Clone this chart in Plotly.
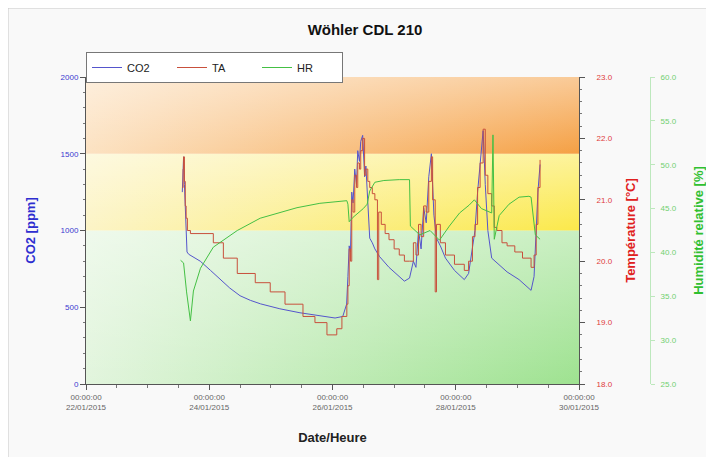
import plotly.graph_objects as go

# ---------------- data ----------------
co2_time = [
    "2015-01-23 13:30", "2015-01-23 13:45", "2015-01-23 14:00", "2015-01-23 14:20", "2015-01-23 14:40",
    "2015-01-23 15:00", "2015-01-23 15:20", "2015-01-23 16:00", "2015-01-23 20:30", "2015-01-24 00:30",
    "2015-01-24 04:20", "2015-01-24 08:00", "2015-01-24 12:00", "2015-01-24 16:00", "2015-01-24 20:00",
    "2015-01-25 03:30", "2015-01-25 11:20", "2015-01-25 19:00", "2015-01-26 01:00", "2015-01-26 04:00",
    "2015-01-26 05:30", "2015-01-26 06:00", "2015-01-26 06:30", "2015-01-26 07:00", "2015-01-26 07:30",
    "2015-01-26 08:00", "2015-01-26 08:40", "2015-01-26 09:20", "2015-01-26 09:50", "2015-01-26 10:30",
    "2015-01-26 11:00", "2015-01-26 11:45", "2015-01-26 12:30", "2015-01-26 13:00", "2015-01-26 13:45",
    "2015-01-26 14:30", "2015-01-26 15:30", "2015-01-26 16:30", "2015-01-26 18:20", "2015-01-26 22:00",
    "2015-01-27 04:00", "2015-01-27 06:00", "2015-01-27 07:30", "2015-01-27 08:30", "2015-01-27 09:30",
    "2015-01-27 10:30", "2015-01-27 11:30", "2015-01-27 12:30", "2015-01-27 13:30", "2015-01-27 14:30",
    "2015-01-27 15:30", "2015-01-27 16:30", "2015-01-27 18:00", "2015-01-27 20:00", "2015-01-27 23:30",
    "2015-01-28 03:20", "2015-01-28 05:00", "2015-01-28 06:30", "2015-01-28 07:30", "2015-01-28 08:30",
    "2015-01-28 09:30", "2015-01-28 10:40", "2015-01-28 11:30", "2015-01-28 12:30", "2015-01-28 14:00",
    "2015-01-28 16:00", "2015-01-28 20:00", "2015-01-29 00:40", "2015-01-29 05:20", "2015-01-29 06:30",
    "2015-01-29 07:20", "2015-01-29 08:00", "2015-01-29 08:50",
]
co2_ppm = [
    1250, 1420, 1480, 1300, 1100,
    900, 860, 845, 800, 740,
    680, 625, 575, 545, 522,
    490, 464, 444, 430, 440,
    520, 700, 900, 860, 1250,
    1180, 1400, 1300, 1520, 1450,
    1580, 1620, 1350, 1420, 1150,
    950, 920, 880, 830, 760,
    670, 690, 800, 760, 1000,
    880, 1150, 1050, 1350, 1500,
    1100, 950, 900, 820, 740,
    680, 720, 900, 1000, 1250,
    1450, 1650, 1300, 1000, 820,
    790, 730, 680, 610, 700,
    1000, 1250, 1430,
]

ta_time = [
    "2015-01-23 13:30", "2015-01-23 13:50", "2015-01-23 14:00", "2015-01-23 14:20", "2015-01-23 14:40",
    "2015-01-23 15:00", "2015-01-23 15:30", "2015-01-23 16:40", "2015-01-24 01:35", "2015-01-24 05:30",
    "2015-01-24 10:55", "2015-01-24 17:55", "2015-01-24 23:45", "2015-01-25 05:30", "2015-01-25 12:30",
    "2015-01-25 17:10", "2015-01-25 21:50", "2015-01-26 00:10", "2015-01-26 01:40", "2015-01-26 03:40",
    "2015-01-26 05:35", "2015-01-26 06:00", "2015-01-26 06:30", "2015-01-26 07:00", "2015-01-26 07:30",
    "2015-01-26 08:00", "2015-01-26 08:40", "2015-01-26 09:20", "2015-01-26 09:50", "2015-01-26 10:30",
    "2015-01-26 11:00", "2015-01-26 11:45", "2015-01-26 12:30", "2015-01-26 13:00", "2015-01-26 13:45",
    "2015-01-26 14:30", "2015-01-26 15:30", "2015-01-26 16:30", "2015-01-26 17:30", "2015-01-26 18:00",
    "2015-01-26 19:00", "2015-01-26 20:30", "2015-01-26 22:00", "2015-01-27 00:00", "2015-01-27 02:00",
    "2015-01-27 04:00", "2015-01-27 06:00", "2015-01-27 07:30", "2015-01-27 08:30", "2015-01-27 09:30",
    "2015-01-27 10:30", "2015-01-27 11:30", "2015-01-27 12:30", "2015-01-27 13:30", "2015-01-27 14:30",
    "2015-01-27 15:00", "2015-01-27 16:00", "2015-01-27 16:30", "2015-01-27 18:00", "2015-01-27 20:00",
    "2015-01-27 23:30", "2015-01-28 03:20", "2015-01-28 05:00", "2015-01-28 06:30", "2015-01-28 07:30",
    "2015-01-28 08:30", "2015-01-28 09:30", "2015-01-28 10:40", "2015-01-28 11:30", "2015-01-28 12:30",
    "2015-01-28 14:00", "2015-01-28 15:00", "2015-01-28 16:00", "2015-01-28 18:00", "2015-01-28 20:00",
    "2015-01-28 23:00", "2015-01-29 02:00", "2015-01-29 05:20", "2015-01-29 06:30", "2015-01-29 07:20",
    "2015-01-29 08:00", "2015-01-29 08:50",
]
ta_degc = [
    21.2, 21.5, 21.7, 21.3, 20.9,
    20.7, 20.5, 20.45, 20.3, 20.05,
    19.8, 19.65, 19.5, 19.3, 19.1,
    19.0, 18.8, 18.8, 18.9, 19.1,
    19.3, 19.6, 20.2, 20.0, 21.0,
    20.8, 21.4, 21.2, 21.6, 21.5,
    21.8, 22.0, 21.4, 21.5, 21.3,
    21.2, 21.1, 21.0, 19.7, 20.8,
    20.6, 20.45, 20.35, 20.2, 20.1,
    20.0, 20.0, 20.3, 20.1, 20.6,
    20.4, 20.9, 20.8, 21.3, 21.7,
    21.0, 19.5, 20.6, 20.3, 20.1,
    19.95, 19.85, 20.0, 20.4, 20.6,
    21.2, 21.6, 22.15, 21.4, 21.1,
    20.9, 20.55, 20.5, 20.3, 20.25,
    20.15, 20.05, 19.9, 20.1, 20.6,
    21.2, 21.65,
]

hr_time = [
    "2015-01-23 12:50", "2015-01-23 14:00", "2015-01-23 15:10", "2015-01-23 16:40", "2015-01-23 17:50",
    "2015-01-23 20:35", "2015-01-24 01:35", "2015-01-24 10:55", "2015-01-24 19:50", "2015-01-25 10:10",
    "2015-01-25 19:05", "2015-01-26 05:35", "2015-01-26 06:00", "2015-01-26 06:30", "2015-01-26 08:00",
    "2015-01-26 10:00", "2015-01-26 12:00", "2015-01-26 13:30", "2015-01-26 14:30", "2015-01-26 16:30",
    "2015-01-26 20:00", "2015-01-27 02:00", "2015-01-27 06:00", "2015-01-27 06:20", "2015-01-27 10:00",
    "2015-01-27 14:00", "2015-01-27 17:40", "2015-01-27 21:30", "2015-01-28 01:30", "2015-01-28 05:15",
    "2015-01-28 07:15", "2015-01-28 10:00", "2015-01-28 14:00", "2015-01-28 14:30", "2015-01-28 15:00",
    "2015-01-28 16:55", "2015-01-28 20:45", "2015-01-29 00:40", "2015-01-29 04:30", "2015-01-29 05:20",
    "2015-01-29 07:00", "2015-01-29 08:50",
]
hr_pct = [
    39.1, 38.8, 35.5, 32.2, 35.6,
    38.2, 40.6, 42.5, 43.9, 45.1,
    45.6, 45.9, 45.5, 43.5, 44.0,
    44.5, 45.0, 45.5, 47.0, 48.0,
    48.2, 48.3, 48.3, 43.0, 42.0,
    42.5, 41.4, 43.0, 44.5, 45.4,
    46.0, 45.0, 44.5, 53.4, 41.5,
    44.2, 45.5, 46.3, 46.4, 46.3,
    42.0, 41.5,
]

band_lo = [0, 1000, 1500]
band_hi = [1000, 1500, 2000]
band_colors = [
    ["#e2f5dd", "#9ee290"],
    ["#fcf4c6", "#fbe94a"],
    ["#fce2c2", "#f5a044"],
]

x_range = ["2015-01-22 00:00", "2015-01-30 00:00"]
x_tickvals = ["2015-01-22", "2015-01-24", "2015-01-26", "2015-01-28", "2015-01-30"]
x_ticktext = ["00:00:00<br>22/01/2015", "00:00:00<br>24/01/2015", "00:00:00<br>26/01/2015",
              "00:00:00<br>28/01/2015", "00:00:00<br>30/01/2015"]

# ---------------- figure ----------------
fig = go.Figure()
FONT = "Liberation Sans, Arial, sans-serif"

for lo, hi, (c0, c1) in zip(band_lo, band_hi, band_colors):
    fig.add_trace(go.Scatter(
        x=[x_range[0], x_range[1], x_range[1], x_range[0], x_range[0]],
        y=[lo, lo, hi, hi, lo],
        mode="lines", line=dict(width=0), fill="toself",
        fillgradient=dict(type="horizontal", colorscale=[[0, c0], [1, c1]]),
        hoverinfo="skip", showlegend=False, xaxis="x", yaxis="y",
    ))
    fig.add_trace(go.Scatter(
        x=[x_range[0], x_range[1], x_range[1], x_range[0], x_range[0]],
        y=[lo, lo, hi, hi, lo],
        mode="lines", line=dict(width=0), fill="toself",
        fillgradient=dict(type="vertical",
                          colorscale=[[0, "rgba(255,255,255,0)"], [1, "rgba(255,255,255,0.45)"]]),
        hoverinfo="skip", showlegend=False, xaxis="x", yaxis="y",
    ))

fig.add_trace(go.Scatter(x=co2_time, y=co2_ppm, name="CO2", mode="lines",
                         line=dict(color="#5555cc", width=1), yaxis="y"))
fig.add_trace(go.Scatter(x=ta_time, y=ta_degc, name="TA", mode="lines",
                         line=dict(color="#c8503c", width=1, shape="hv"), yaxis="y2"))
fig.add_trace(go.Scatter(x=hr_time, y=hr_pct, name="HR", mode="lines",
                         line=dict(color="#44c044", width=1), yaxis="y3"))

# the page puts the figure 8px from the window edge
L, T, R, B = 78, 69, 10, 81
plot_w = 714 - L - R
plot_h = 457 - T - B
dom_end = (571 - L) / plot_w
hr_pos = (642 - L) / plot_w

fig.update_layout(
    width=714, height=457,
    margin=dict(l=L, r=R, t=T, b=B, autoexpand=False),
    paper_bgcolor="#f9f9f9", plot_bgcolor="#ffffff",
    font=dict(family=FONT, size=9, color="#444"),
    title=dict(text="<b>Wöhler CDL 210</b>", x=357 / 714, xanchor="center",
               y=1 - 22 / 457, yanchor="middle", font=dict(size=15, color="#111")),
    showlegend=True,
    legend=dict(orientation="h", x=0.0, xanchor="left", y=1 + (T - 44) / plot_h, yanchor="top",
                bgcolor="#ffffff", bordercolor="#777", borderwidth=1,
                font=dict(size=11, color="#222"), entrywidth=40, entrywidthmode="pixels",
                itemwidth=30, tracegroupgap=0),
    xaxis=dict(domain=[0, dom_end], type="date", range=x_range,
               tickvals=x_tickvals, ticktext=x_ticktext, showgrid=False,
               showline=True, linecolor="#555", linewidth=1, ticks="outside",
               ticklen=5, tickcolor="#555", tickfont=dict(size=8, color="#666"),
               minor=dict(dtick=12 * 3600 * 1000, ticks="outside", ticklen=3, tickcolor="#777"),
               title=dict(text="<b>Date/Heure</b>", font=dict(size=13, color="#222"), standoff=21),
               zeroline=False),
    yaxis=dict(range=[0, 2000], tickvals=[0, 500, 1000, 1500, 2000], showgrid=False,
               showline=True, linecolor="#555", linewidth=1, ticks="outside", ticklen=5,
               tickcolor="#555", tickfont=dict(size=8, color="#3a3ad0"),
               minor=dict(dtick=100, ticks="outside", ticklen=2, tickcolor="#777"),
               title=dict(text="<b>CO2 [ppm]</b>", font=dict(size=13, color="#2e2ed0"), standoff=22),
               zeroline=False),
    yaxis2=dict(range=[18, 23], dtick=1, tickformat=".1f", overlaying="y", side="right",
                anchor="x", showgrid=False, showline=True, linecolor="#555", linewidth=1,
                ticks="outside", ticklen=5, tickcolor="#555", ticklabelstandoff=10,
                tickfont=dict(size=8, color="#e03c3c"),
                minor=dict(dtick=0.2, ticks="outside", ticklen=2, tickcolor="#777"),
                title=dict(text="<b>Température [°C]</b>", font=dict(size=13, color="#e02020"),
                           standoff=14),
                zeroline=False),
    yaxis3=dict(range=[25, 60], dtick=5, tickformat=".1f", overlaying="y", side="right",
                anchor="free", position=hr_pos, showgrid=False, showline=True,
                linecolor="#bde8bd", linewidth=1, ticks="outside", ticklen=4, tickcolor="#bde8bd",
                ticklabelstandoff=4,
                tickfont=dict(size=8, color="#70d070"),
                title=dict(text="<b>Humidité relative [%]</b>", font=dict(size=13, color="#30c030"),
                           standoff=18),
                zeroline=False),
    shapes=[dict(type="rect", xref="paper", yref="paper",
                 x0=(0 - L) / plot_w, x1=1.2, y0=-0.4, y1=(457 - B) / plot_h,
                 line=dict(color="#c8c8c8", width=1), fillcolor="rgba(0,0,0,0)", layer="below")],
)

fig.write_html("out.html")
